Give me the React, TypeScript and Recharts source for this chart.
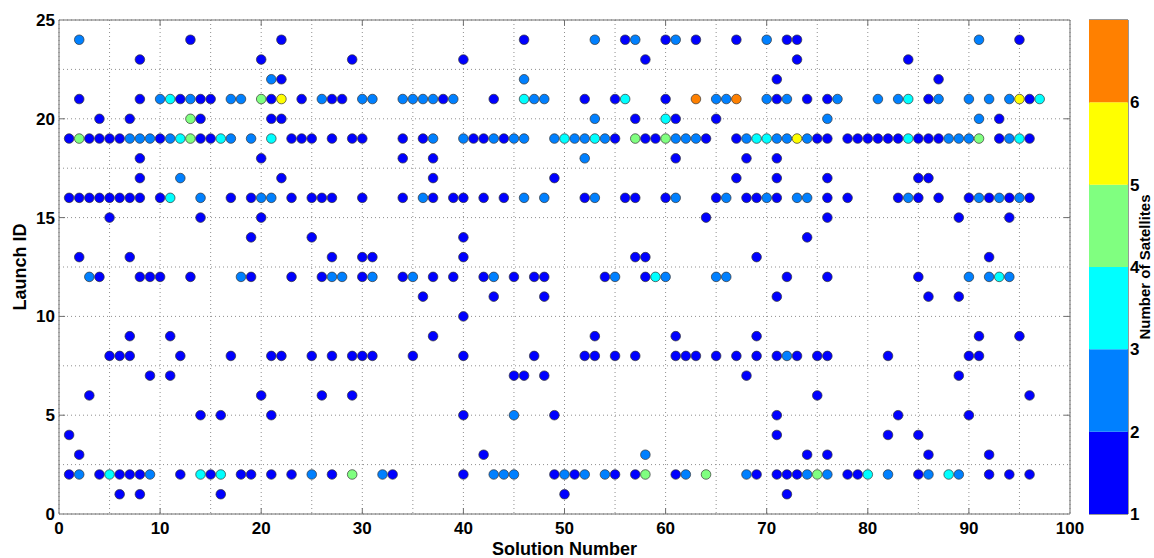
import { ScatterChart, Scatter, XAxis, YAxis, CartesianGrid, ReferenceArea, ReferenceLine, BarChart, Bar } from 'recharts'

type Pt = { solution: number; launch: number }

// one launch ID row -> list of points
const row = (launch: number, solutions: number[]): Pt[] => solutions.map((solution) => ({ solution, launch }))

const oneSat: Pt[] = [
  ...row(24, [13, 22, 46, 56, 60, 63, 67, 72, 73, 95]),
  ...row(23, [8, 20, 29, 40, 58, 73, 84]),
  ...row(22, [22, 71, 87]),
  ...row(21, [2, 8, 12, 14, 15, 21, 24, 27, 28, 38, 43, 52, 55, 60, 71, 74, 76, 86, 96]),
  ...row(20, [4, 7, 14, 21, 22, 57, 61, 65, 93]),
  ...row(19, [1, 3, 4, 5, 6, 10, 14, 15, 23, 24, 25, 27, 29, 30, 34, 36, 41, 42, 44, 55, 58, 59, 64, 67, 75, 76, 78, 79, 80, 81, 82, 83, 85, 86, 87, 93, 96]),
  ...row(18, [8, 20, 34, 37, 61, 68, 71]),
  ...row(17, [8, 22, 37, 49, 67, 71, 76, 85, 86]),
  ...row(16, [1, 2, 3, 4, 5, 6, 7, 8, 10, 17, 19, 23, 25, 26, 27, 30, 34, 37, 39, 40, 42, 44, 52, 56, 57, 60, 65, 68, 69, 71, 76, 78, 83, 85, 87, 90, 92, 94, 96]),
  ...row(15, [5, 14, 20, 64, 76, 89, 94]),
  ...row(14, [19, 25, 40, 74]),
  ...row(13, [2, 7, 27, 30, 31, 40, 57, 58, 69, 92]),
  ...row(12, [4, 8, 9, 10, 13, 19, 23, 26, 30, 34, 37, 39, 42, 45, 47, 48, 54, 58, 72, 76, 85]),
  ...row(11, [36, 43, 48, 71, 86, 89]),
  ...row(10, [40]),
  ...row(9, [7, 11, 37, 53, 61, 69, 91, 95]),
  ...row(8, [5, 6, 7, 12, 17, 21, 22, 25, 27, 29, 30, 31, 35, 40, 47, 52, 53, 55, 57, 61, 62, 63, 65, 67, 69, 71, 73, 75, 76, 82, 90, 91]),
  ...row(7, [9, 11, 45, 46, 48, 68, 89]),
  ...row(6, [3, 20, 26, 29, 75, 96]),
  ...row(5, [14, 16, 21, 40, 49, 71, 83, 90]),
  ...row(4, [1, 71, 82, 85]),
  ...row(3, [2, 42, 74, 76, 86, 92]),
  ...row(2, [1, 4, 6, 7, 8, 12, 15, 18, 19, 21, 23, 27, 33, 40, 49, 51, 55, 57, 61, 69, 71, 72, 73, 78, 79, 85, 92, 94, 96]),
  ...row(1, [6, 8, 16, 50, 72]),
]

const twoSat: Pt[] = [
  ...row(24, [2, 53, 57, 61, 70, 91]),
  ...row(22, [21, 46]),
  ...row(21, [10, 13, 17, 18, 26, 30, 31, 34, 35, 36, 37, 39, 47, 48, 65, 66, 70, 72, 77, 81, 83, 87, 90, 92, 94]),
  ...row(20, [53, 76, 91]),
  ...row(19, [7, 8, 9, 11, 17, 19, 37, 40, 43, 45, 46, 49, 51, 52, 54, 61, 62, 63, 68, 71, 72, 74, 88, 89, 90, 94]),
  ...row(18, [52]),
  ...row(17, [12]),
  ...row(16, [14, 20, 21, 36, 46, 48, 53, 61, 66, 70, 73, 74, 84, 91, 93, 95]),
  ...row(12, [3, 18, 27, 28, 31, 35, 43, 55, 60, 65, 66, 90, 92, 94]),
  ...row(8, [72]),
  ...row(5, [45]),
  ...row(3, [58]),
  ...row(2, [2, 9, 25, 32, 43, 44, 45, 50, 52, 54, 62, 68, 74, 76, 82, 86, 89]),
]

const threeSat: Pt[] = [
  ...row(21, [11, 46, 56, 84, 97]),
  ...row(20, [60]),
  ...row(19, [12, 16, 21, 50, 53, 69, 70, 84, 95]),
  ...row(16, [11]),
  ...row(12, [59, 93]),
  ...row(2, [5, 14, 16, 80, 88]),
]

const fourSat: Pt[] = [
  ...row(21, [20]),
  ...row(20, [13]),
  ...row(19, [2, 13, 57, 60, 91]),
  ...row(2, [29, 58, 64, 75]),
]

const fiveSat: Pt[] = [...row(21, [22, 95]), ...row(19, [73])]

const sixSat: Pt[] = [...row(21, [63, 67])]

const satLevels = [1, 2, 3, 4, 5, 6]
const levelColors = ['#0000ff', '#0080ff', '#00ffff', '#80ff80', '#ffff00', '#ff8000']
const seriesByLevel = [oneSat, twoSat, threeSat, fourSat, fiveSat, sixSat]

const solutionTicks = [0, 5, 10, 15, 20, 25, 30, 35, 40, 45, 50, 55, 60, 65, 70, 75, 80, 85, 90, 95, 100]
const launchTicks = [0, 2.5, 5, 7.5, 10, 12.5, 15, 17.5, 20, 22.5, 25]
const majorSolution = [10, 20, 30, 40, 50, 60, 70, 80, 90]
const majorLaunch = [5, 10, 15, 20]

const colorbarData = [
  { name: 'cb', base: 1, ...Object.fromEntries(satLevels.map((l) => [`l${l}`, 1])) },
]

const font = "'Liberation Sans', Arial, Helvetica, sans-serif"
const tickStyle = { fill: '#000', fontSize: 17, fontWeight: 'bold', fontFamily: font }
const axisGray = '#6e6e6e'

const dot = (fill: string) => (props: any) => (
  <circle cx={props.cx} cy={props.cy} r={4.8} fill={fill} stroke="#333" strokeWidth={0.7} />
)

// rotated axis title; dx is where the baseline sits, measured from the axis box's left edge
const vLabel = (text: string, dx: number, size: number) => (props: any) => {
  const vb = props.viewBox
  const x = vb.x + dx
  const y = vb.y + vb.height / 2
  return (
    <text x={x} y={y} transform={`rotate(-90 ${x} ${y})`} textAnchor="middle"
      fontSize={size} fontWeight="bold" fontFamily={font} fill="#000">
      {text}
    </text>
  )
}

const xLabel = (props: any) => {
  const vb = props.viewBox
  return (
    <text x={vb.x + vb.width / 2} y={vb.y + 41} textAnchor="middle" fontSize={18} fontWeight="bold" fontFamily={font} fill="#000">
      Solution Number
    </text>
  )
}

export default function App() {
  return (
    <div style={{ position: 'absolute', left: 0, top: 0, width: 1154, height: 558, background: '#fff' }}>
      <div style={{ position: 'absolute', left: 0, top: 0 }}>
        <ScatterChart width={1154} height={558} margin={{ top: 20, right: 84, bottom: 0, left: 0 }}>
          <CartesianGrid strokeDasharray="1 3" stroke="#8f8f8f" />
          <XAxis type="number" dataKey="solution" domain={[0, 100]} ticks={solutionTicks} interval={0}
            tickFormatter={(v) => (v % 10 === 0 ? String(v) : '')} tick={tickStyle}
            tickLine={false} axisLine={false} height={44} label={xLabel} />
          <YAxis type="number" dataKey="launch" domain={[0, 25]} ticks={launchTicks} interval={0}
            tickFormatter={(v) => (v % 5 === 0 ? String(v) : '')} tick={tickStyle}
            tickLine={false} axisLine={false} width={59} tickSize={2} tickMargin={2}
            label={vLabel('Launch ID', 26, 18)} />
          {majorSolution.map((s) => (
            <ReferenceLine key={`xb${s}`} segment={[{ x: s, y: 0 }, { x: s, y: 0.3 }]} stroke={axisGray} />
          ))}
          {majorSolution.map((s) => (
            <ReferenceLine key={`xt${s}`} segment={[{ x: s, y: 25 }, { x: s, y: 24.7 }]} stroke={axisGray} />
          ))}
          {majorLaunch.map((l) => (
            <ReferenceLine key={`yl${l}`} segment={[{ x: 0, y: l }, { x: 0.6, y: l }]} stroke={axisGray} />
          ))}
          {majorLaunch.map((l) => (
            <ReferenceLine key={`yr${l}`} segment={[{ x: 100, y: l }, { x: 99.4, y: l }]} stroke={axisGray} />
          ))}
          <ReferenceArea x1={0} x2={100} y1={0} y2={25} fill="none" stroke={axisGray} strokeWidth={1} />
          {seriesByLevel.map((pts, i) => (
            <Scatter key={satLevels[i]} name={`${satLevels[i]}`} data={pts} shape={dot(levelColors[i])} isAnimationActive={false} />
          ))}
        </ScatterChart>
      </div>
      <div style={{ position: 'absolute', left: 1089, top: 0 }}>
        <BarChart width={63} height={558} data={colorbarData} margin={{ top: 20, right: 0, bottom: 44, left: 0 }} barCategoryGap={0}>
          <XAxis dataKey="name" hide />
          <YAxis orientation="right" type="number" domain={[1, 7]} ticks={satLevels} allowDataOverflow
            tick={tickStyle} tickLine={false} axisLine={false} width={24} tickSize={2} tickMargin={0}
            label={vLabel('Number of Satellites', 22, 15)} />
          <Bar dataKey="base" stackId="cb" fill="none" isAnimationActive={false} />
          {satLevels.map((l, i) => (
            <Bar key={l} dataKey={`l${l}`} stackId="cb" fill={levelColors[i]} isAnimationActive={false} />
          ))}
          <ReferenceArea y1={1} y2={7} fill="none" stroke="#333" strokeWidth={1} />
        </BarChart>
      </div>
    </div>
  )
}
